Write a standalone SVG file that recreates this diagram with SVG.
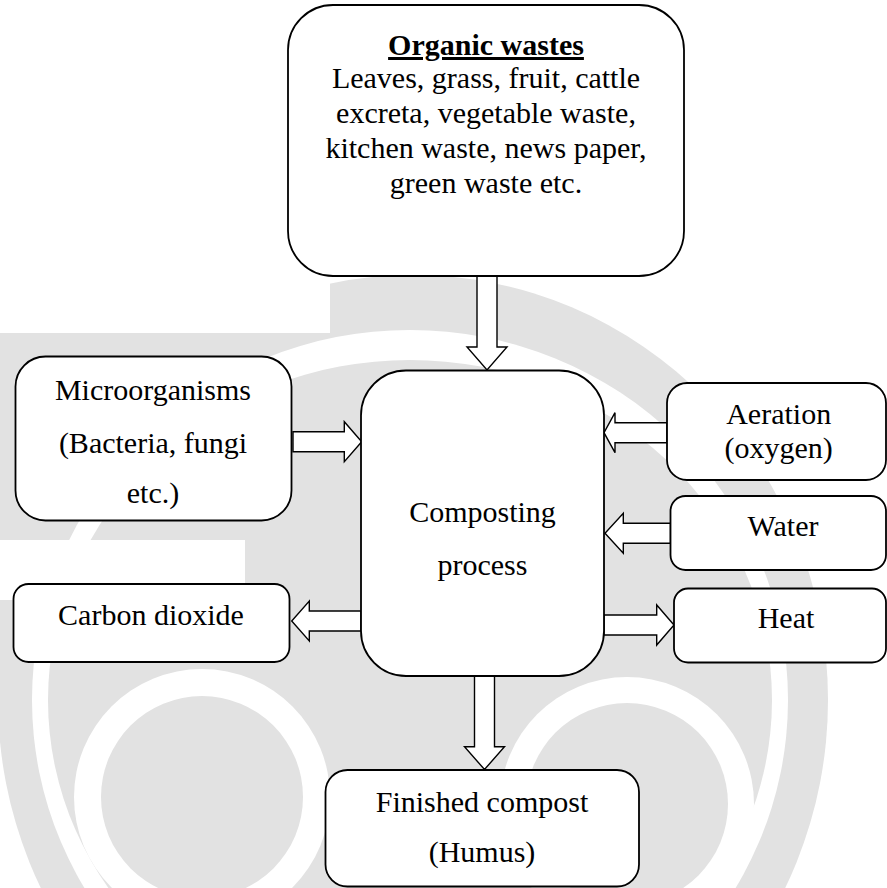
<svg xmlns="http://www.w3.org/2000/svg" width="887" height="888" viewBox="0 0 887 888">
<style>
.box{fill:#fff;stroke:#000;stroke-width:1.8}
.arr{fill:#fff;stroke:#000;stroke-width:1.4;stroke-linejoin:miter}
.t{font-family:"Liberation Serif","Times New Roman",serif;font-size:30px;fill:#000;text-anchor:middle}
.wm{fill:#e2e2e2}
</style>
<rect width="887" height="888" fill="#fff"/>
<g id="watermark">
<ellipse class="wm" cx="413" cy="700" rx="415" ry="425"/>
<rect class="wm" x="0" y="333" width="340" height="400"/>
<ellipse cx="410" cy="700" rx="378" ry="370" fill="#fff"/>
<ellipse class="wm" cx="410" cy="700" rx="362" ry="340"/>
<circle cx="202" cy="797" r="128" fill="#fff"/>
<circle class="wm" cx="202" cy="797" r="101"/>
<circle cx="627" cy="804" r="127" fill="#fff"/>
<circle class="wm" cx="627" cy="804" r="101"/>
<rect x="0" y="280" width="330" height="53" fill="#fff"/>
<rect x="0" y="540" width="245" height="60" fill="#fff"/>
</g>
<g id="connectors">
<polygon class="arr" points="477,276 497,276 497,347 507,347 487,370 467,347 477,347"/>
<polygon class="arr" points="293,431.7 344.3,431.7 344.3,421.7 361.7,441.7 344.3,461.7 344.3,451.7 293,451.7"/>
<polygon class="arr" points="667,422.7 615,422.7 615,412.7 604,432.7 615,452.7 615,442.7 667,442.7"/>
<polygon class="arr" points="670.5,523.3 623.3,523.3 623.3,513.3 605,533.3 623.3,553.3 623.3,543.3 670.5,543.3"/>
<polygon class="arr" points="604,615 656.7,615 656.7,605 674,625 656.7,645 656.7,635 604,635"/>
<polygon class="arr" points="361,611 309.3,611 309.3,601 291.7,621 309.3,641 309.3,631 361,631"/>
<polygon class="arr" points="474.5,676 494.5,676 494.5,746.7 504.5,746.7 484.5,769.5 464.5,746.7 474.5,746.7"/>
</g>
<g id="organic">
<rect class="box" x="288" y="5" width="396" height="271" rx="45"/>
<text class="t" x="486" y="55" font-weight="bold" text-decoration="underline">Organic wastes</text>
<text class="t" x="486" y="88.3">Leaves, grass, fruit, cattle</text>
<text class="t" x="486" y="123.3">excreta, vegetable waste,</text>
<text class="t" x="486" y="158.3">kitchen waste, news paper,</text>
<text class="t" x="486" y="193.3">green waste etc.</text>
</g>
<g id="micro">
<rect class="box" x="15.5" y="356.5" width="276" height="164" rx="30"/>
<text class="t" x="153" y="400">Microorganisms</text>
<text class="t" x="153" y="453.3">(Bacteria, fungi</text>
<text class="t" x="153" y="503.3">etc.)</text>
</g>
<g id="carbon">
<rect class="box" x="13.5" y="584" width="276" height="78" rx="15"/>
<text class="t" x="151" y="625">Carbon dioxide</text>
</g>
<g id="composting">
<rect class="box" x="361" y="370.5" width="243" height="305.5" rx="45"/>
<text class="t" x="482.5" y="521.7">Composting</text>
<text class="t" x="482.5" y="575">process</text>
</g>
<g id="aeration">
<rect class="box" x="667" y="383" width="219" height="97" rx="20"/>
<text class="t" x="778.7" y="424">Aeration</text>
<text class="t" x="778.7" y="457.5">(oxygen)</text>
</g>
<g id="water">
<rect class="box" x="670.5" y="496" width="215.5" height="74" rx="15"/>
<text class="t" x="783" y="535.7">Water</text>
</g>
<g id="heat">
<rect class="box" x="674" y="588.5" width="212" height="74" rx="14"/>
<text class="t" x="786" y="628.3">Heat</text>
</g>
<g id="finished">
<rect class="box" x="325.5" y="770" width="313.5" height="116.5" rx="22"/>
<text class="t" x="482" y="811.7">Finished compost</text>
<text class="t" x="482" y="861.7">(Humus)</text>
</g>
</svg>
